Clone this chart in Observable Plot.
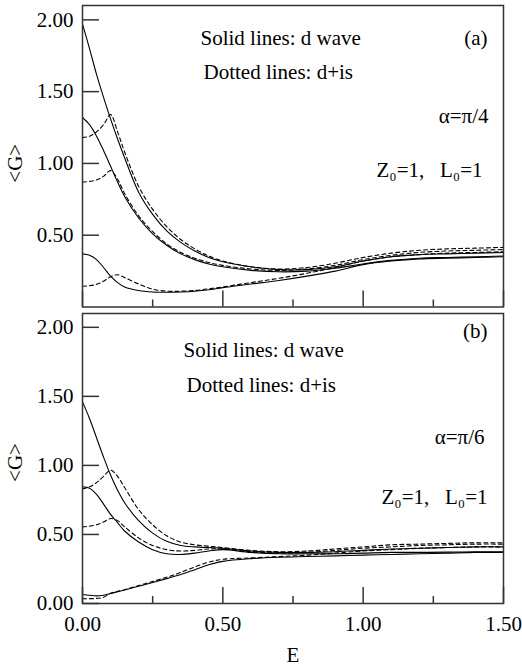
<!DOCTYPE html>
<html><head><meta charset="utf-8">
<script src="https://cdn.jsdelivr.net/npm/d3@7"></script>
<script src="https://cdn.jsdelivr.net/npm/@observablehq/plot@0.6"></script>
<style>
body{margin:0;background:#fff}
svg{display:block}
svg, svg text{font-family:"Liberation Serif","Times New Roman",serif !important}
</style>
</head><body><div id="chart"></div>
<script>
// Energy grid (shared by every curve)
const E = [0, 0.025, 0.05, 0.075, 0.1, 0.125, 0.15, 0.2, 0.25, 0.3, 0.35, 0.4, 0.45, 0.5, 0.6, 0.7, 0.8, 0.9, 1.0, 1.1, 1.2, 1.3, 1.4, 1.5];

// Panel (a): alpha = pi/4
const dWaveA1 = [1.97, 1.80, 1.62, 1.46, 1.31, 1.17, 1.04, 0.80, 0.645, 0.53, 0.45, 0.39, 0.345, 0.315, 0.28, 0.26, 0.26, 0.28, 0.32, 0.35, 0.365, 0.37, 0.375, 0.38];
const dWaveA2 = [1.32, 1.27, 1.19, 1.09, 0.98, 0.87, 0.77, 0.62, 0.51, 0.43, 0.37, 0.33, 0.30, 0.28, 0.255, 0.245, 0.25, 0.27, 0.30, 0.325, 0.34, 0.345, 0.35, 0.355];
const dWaveA3 = [0.37, 0.36, 0.33, 0.275, 0.215, 0.17, 0.14, 0.115, 0.105, 0.103, 0.105, 0.11, 0.12, 0.135, 0.16, 0.185, 0.215, 0.25, 0.295, 0.32, 0.335, 0.34, 0.345, 0.35];
const disA1 = [1.18, 1.19, 1.22, 1.27, 1.34, 1.22, 1.08, 0.84, 0.68, 0.56, 0.47, 0.405, 0.355, 0.32, 0.28, 0.265, 0.275, 0.305, 0.345, 0.375, 0.395, 0.405, 0.41, 0.415];
const disA2 = [0.87, 0.875, 0.885, 0.91, 0.95, 0.89, 0.79, 0.635, 0.525, 0.44, 0.38, 0.34, 0.31, 0.29, 0.265, 0.255, 0.265, 0.29, 0.33, 0.36, 0.38, 0.39, 0.395, 0.40];
const disA3 = [0.145, 0.148, 0.158, 0.18, 0.21, 0.225, 0.205, 0.16, 0.125, 0.11, 0.11, 0.115, 0.127, 0.14, 0.17, 0.20, 0.235, 0.275, 0.32, 0.35, 0.365, 0.375, 0.38, 0.385];

// Panel (b): alpha = pi/6
const dWaveB1 = [1.46, 1.34, 1.20, 1.06, 0.93, 0.82, 0.73, 0.60, 0.51, 0.45, 0.42, 0.41, 0.405, 0.40, 0.38, 0.37, 0.37, 0.375, 0.385, 0.395, 0.40, 0.405, 0.41, 0.41];
const dWaveB2 = [0.845, 0.835, 0.79, 0.72, 0.645, 0.585, 0.525, 0.445, 0.39, 0.36, 0.355, 0.365, 0.38, 0.39, 0.37, 0.36, 0.36, 0.36, 0.365, 0.37, 0.37, 0.372, 0.375, 0.375];
const dWaveB3 = [0.065, 0.06, 0.055, 0.06, 0.072, 0.085, 0.098, 0.125, 0.152, 0.18, 0.21, 0.245, 0.28, 0.305, 0.325, 0.335, 0.34, 0.345, 0.35, 0.355, 0.36, 0.365, 0.37, 0.37];
const disB1 = [0.83, 0.845, 0.875, 0.92, 0.965, 0.92, 0.84, 0.68, 0.57, 0.49, 0.445, 0.425, 0.415, 0.405, 0.385, 0.375, 0.38, 0.395, 0.41, 0.425, 0.43, 0.435, 0.44, 0.44];
const disB2 = [0.555, 0.56, 0.57, 0.59, 0.615, 0.60, 0.555, 0.475, 0.42, 0.39, 0.38, 0.385, 0.395, 0.395, 0.375, 0.365, 0.37, 0.385, 0.40, 0.41, 0.42, 0.425, 0.43, 0.43];
const disB3 = [0.035, 0.035, 0.037, 0.045, 0.075, 0.088, 0.10, 0.13, 0.16, 0.19, 0.225, 0.265, 0.30, 0.32, 0.33, 0.34, 0.35, 0.365, 0.38, 0.39, 0.40, 0.405, 0.41, 0.41];

// Ticks and labels
const xMajorTicks = [0, 0.5, 1.0, 1.5];
const xMinorTicks = [0.25, 0.75, 1.25];
const yTicksA = [0.5, 1.0, 1.5, 2.0];
const yTicksB = [0, 0.5, 1.0, 1.5, 2.0];
const legendSolid = "Solid lines: d wave";
const legendDotted = "Dotted lines: d+is";
const paramText = "Z\u2080=1,   L\u2080=1";
const yLabel = "<G>";
const xLabel = "E";

function rows(series) {
  return series.flatMap((vals, i) => vals.map((g, j) => ({E: E[j], G: g, s: i})));
}

const font = "'Liberation Serif', 'Times New Roman', serif";

function panel(o) {
  const t = {fontSize: 21, fontFamily: font, fill: "#000"};
  const marks = [
    Plot.line(rows(o.solid), {x: "E", y: "G", z: "s", curve: "catmull-rom", stroke: "#000", strokeWidth: 1.1}),
    Plot.line(rows(o.dashed), {x: "E", y: "G", z: "s", curve: "catmull-rom", stroke: "#000", strokeWidth: 1.1, strokeDasharray: "4,3"}),
    Plot.axisY(o.yTicks, {tickSize: -17, tickFormat: () => "", label: null, stroke: "#333", strokeWidth: 1.5}),
    Plot.axisY(o.yTicks, {tickSize: 0, tickPadding: 9, tickFormat: d3.format(".2f"), label: null, ...t}),
    Plot.axisX(xMajorTicks, {tickSize: -16, tickFormat: () => "", label: null, stroke: "#333", strokeWidth: 1.5}),
    Plot.axisX(xMinorTicks, {tickSize: -7, tickFormat: () => "", label: null, stroke: "#333", strokeWidth: 1.5}),
    Plot.frame({stroke: "#333", strokeWidth: 1.5}),
    Plot.text([legendSolid], {frameAnchor: "top-left", dx: o.legendDx, dy: o.legendDy, textAnchor: "start", lineAnchor: "middle", ...t}),
    Plot.text([legendDotted], {frameAnchor: "top-left", dx: o.legendDx + 3, dy: o.legendDy + o.legendGap, textAnchor: "start", lineAnchor: "middle", ...t}),
    Plot.text([o.tag], {frameAnchor: "top-right", dx: -16, dy: o.tagDy, textAnchor: "end", lineAnchor: "middle", ...t}),
    Plot.text([o.alpha], {frameAnchor: "top-right", dx: o.alphaDx, dy: o.alphaDy, textAnchor: "end", lineAnchor: "middle", ...t}),
    Plot.text([paramText], {frameAnchor: "top-right", dx: o.paramDx, dy: o.paramDy, textAnchor: "end", lineAnchor: "middle", ...t}),
    Plot.text([yLabel], {frameAnchor: "left", dx: -67, dy: o.yLabelDy, rotate: -90, textAnchor: "middle", lineAnchor: "middle", ...t})
  ];
  if (o.showX) {
    marks.push(Plot.axisX(xMajorTicks, {tickSize: 0, tickPadding: 13, tickFormat: d3.format(".2f"), label: null, ...t}));
    marks.push(Plot.text([xLabel], {frameAnchor: "bottom", dy: 52, textAnchor: "middle", lineAnchor: "middle", ...t}));
  }
  return Plot.plot({
    width: 522,
    height: o.height,
    marginLeft: 82,
    marginRight: 19,
    marginTop: o.marginTop,
    marginBottom: o.marginBottom,
    style: {fontFamily: font, fontSize: "21px", color: "#000", background: "#fff", overflow: "visible"},
    x: {domain: [0, 1.5], axis: null},
    y: {domain: [0, 2.1], axis: null},
    marks
  });
}

const chart = document.getElementById("chart");
chart.append(panel({
  solid: [dWaveA1, dWaveA2, dWaveA3],
  dashed: [disA1, disA2, disA3],
  yTicks: yTicksA,
  height: 310, marginTop: 5, marginBottom: 3.5,
  legendDx: 118, legendDy: 33, legendGap: 34,
  tag: "(a)", tagDy: 33,
  alpha: "\u03b1=\u03c0/4", alphaDx: -15, alphaDy: 111,
  paramDx: -21, paramDy: 165,
  yLabelDy: 7,
  showX: false
}));
chart.append(panel({
  solid: [dWaveB1, dWaveB2, dWaveB3],
  dashed: [disB1, disB2, disB3],
  yTicks: yTicksB,
  height: 360, marginTop: 3, marginBottom: 67,
  legendDx: 101, legendDy: 37, legendGap: 35,
  tag: "(b)", tagDy: 18,
  alpha: "\u03b1=\u03c0/6", alphaDx: -19, alphaDy: 124,
  paramDx: -16, paramDy: 184,
  yLabelDy: 4,
  showX: true
}));
</script>
</body></html>
